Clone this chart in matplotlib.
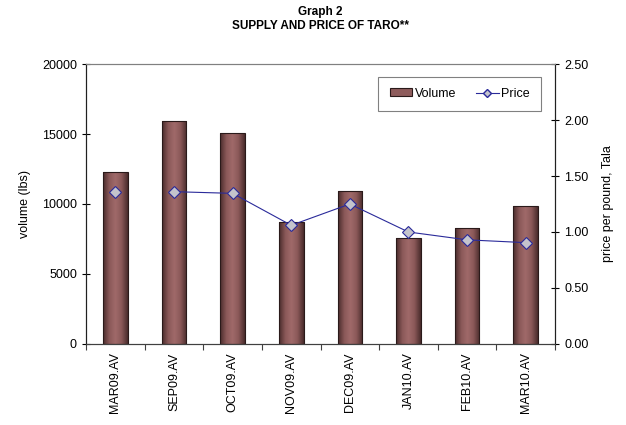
import numpy as np
import matplotlib
matplotlib.use("Agg")
import matplotlib.pyplot as plt
from matplotlib.colors import LinearSegmentedColormap

plt.rcParams['font.family'] = ['Liberation Sans', 'DejaVu Sans']

months = ["MAR09.AV", "SEP09.AV", "OCT09.AV", "NOV09.AV",
          "DEC09.AV", "JAN10.AV", "FEB10.AV", "MAR10.AV"]
volume = [12300, 15900, 15100, 8700, 10900, 7600, 8250, 9850]
price = [1.36, 1.36, 1.345, 1.06, 1.25, 1.00, 0.93, 0.905]

fig = plt.figure(figsize=(6.26, 4.25), dpi=100)
ax = fig.add_axes([0.1374, 0.1906, 0.7492, 0.6588])
ax2 = ax.twinx()

x = np.arange(len(months))
bars = ax.bar(x, volume, width=0.42, color='#8e5c5c', edgecolor='#2a1a1a',
              linewidth=0.8, zorder=2, label='Volume')

# shaded bars like the excel cylinders
cmap = LinearSegmentedColormap.from_list(
    'taro', ['#4a2c2c', '#8a5858', '#a06a6a', '#8a5858', '#4a2c2c'])
grad = np.linspace(0, 1, 64).reshape(1, -1)
for b in bars:
    x0, y0 = b.get_x(), b.get_y()
    im = ax.imshow(grad, cmap=cmap, aspect='auto', zorder=2.1,
                   extent=[x0, x0 + b.get_width(), y0, y0 + b.get_height()])
    im.set_clip_path(b)
    b.set_facecolor('none')
    b.set_zorder(2.2)

ax.set_xlim(-0.5, len(months) - 0.5)
ax.set_ylim(0, 20000)
ax.set_yticks([0, 5000, 10000, 15000, 20000])
ax2.set_ylim(0, 2.5)
ax2.set_yticks([0, 0.5, 1.0, 1.5, 2.0, 2.5])
ax2.set_yticklabels(["%.2f" % v for v in [0, 0.5, 1.0, 1.5, 2.0, 2.5]])

ax2.plot(x[1:], price[1:], color='#2a2a9a', linewidth=0.8, zorder=3)
ax2.plot(x, price, linestyle='none', marker='D', markersize=6,
         markerfacecolor='#c4c4cc', markeredgecolor='#2a2a9a',
         markeredgewidth=0.8, zorder=4)
line_handle, = ax2.plot([], [], color='#2a2a9a', linewidth=0.8, marker='D',
                        markersize=4, markerfacecolor='#c4c4cc',
                        markeredgecolor='#2a2a9a', label='Price')

ax.set_xticks(x)
ax.set_xticklabels(months, rotation=90, fontsize=9)
ax.set_xticks(np.arange(len(months) + 1) - 0.5, minor=True)
ax.tick_params(axis='x', which='major', length=0, pad=6)
ax.tick_params(axis='x', which='minor', length=4, width=0.8, color='#404040',
               direction='out')
ax.tick_params(axis='y', labelsize=9, length=6, direction='inout', width=0.8)
ax2.tick_params(axis='y', labelsize=9, length=6, direction='inout', width=0.8)

for a in (ax, ax2):
    a.spines['top'].set_color('#808080')
    a.spines['left'].set_color('#202020')
    a.spines['right'].set_color('#202020')
    a.spines['bottom'].set_color('#404040')
    for s in a.spines.values():
        s.set_linewidth(0.8)

ax.set_ylabel("volume (lbs)", fontsize=9, labelpad=8)
ax2.set_ylabel("price per pound, Tala", fontsize=9, labelpad=10)

fig.text(0.512, 0.985, "Graph 2", ha='center', va='top', fontsize=8.5,
         fontweight='bold')
fig.text(0.512, 0.954, "SUPPLY AND PRICE OF TARO**", ha='center', va='top',
         fontsize=8.5, fontweight='bold')

leg = ax2.legend(handles=[bars, line_handle], loc='upper right',
                 bbox_to_anchor=(0.97, 0.955), ncol=2, fontsize=9,
                 frameon=True, fancybox=False, handlelength=1.8,
                 handleheight=0.6, columnspacing=1.6, borderpad=0.9,
                 handletextpad=0.2, borderaxespad=0)
leg.get_frame().set_edgecolor('#606060')
leg.get_frame().set_linewidth(0.8)
for p in leg.get_patches():
    p.set_facecolor('#8e5c5c')

fig.savefig("out.png", dpi=100)
